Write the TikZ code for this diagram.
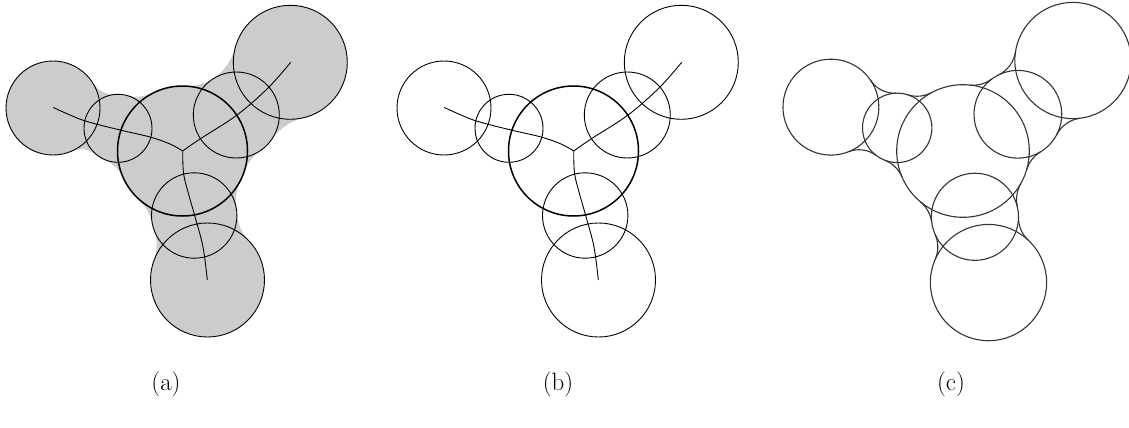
\documentclass[tikz,border=0pt]{standalone}
\usetikzlibrary{intersections,calc}
\tikzset{
  circ/.style={line width=0.9pt, draw=black},
  core/.style={line width=1.5pt, draw=black},
  skel/.style={line width=0.9pt, draw=black},
  skinfill/.style={fill=black!20},
  outl/.style={line width=1.1pt, draw=black!80},
  lab/.style={font=\fontsize{25}{30}\selectfont, inner sep=0pt},
}
\newcommand\uu{1}
\newcommand\defpts[1]{%
  \coordinate (#1L) at (53,108);
  \coordinate (#1S) at (118,128.3);
  \coordinate (#1C) at (182.5,151);
  \coordinate (#1U) at (236.3,115);
  \coordinate (#1T) at (290.3,62.3);
  \coordinate (#1M) at (194.2,215.5);
  \coordinate (#1B) at (207.5,280);
}
\newcommand\blendpts[6]{%
  \path[name path=bpA#6] (#1) circle[radius=#2+#5];
  \path[name path=bpB#6] (#3) circle[radius=#4+#5];
  \path[name intersections={of=bpA#6 and bpB#6, name=#6}];
}
% A rA B rB P R
\newcommand\filletregion[6]{%
  \fill[skinfill] let \p0=(#5),
      \p1=($(#1)!{#2/(#2+#6)}!(#5)$),
      \p2=($(#3)!{#4/(#4+#6)}!(#5)$),
      \n1={atan2(\y1-\y0,\x1-\x0)},
      \n2={atan2(\y2-\y0,\x2-\x0)},
      \n3={mod(\n2-\n1+540,360)-180},
      \n4={#6*\uu}
  in (#1) -- (\p1) arc[start angle=\n1, delta angle=\n3, radius=\n4 pt] -- (#3) -- cycle;}
\newcommand\filletarc[6]{%
  \draw[outl] let \p0=(#5),
      \p1=($(#1)!{#2/(#2+#6)}!(#5)$),
      \p2=($(#3)!{#4/(#4+#6)}!(#5)$),
      \n1={atan2(\y1-\y0,\x1-\x0)},
      \n2={atan2(\y2-\y0,\x2-\x0)},
      \n3={mod(\n2-\n1+540,360)-180},
      \n4={#6*\uu}
  in (\p1) arc[start angle=\n1, delta angle=\n3, radius=\n4 pt];}
\newcommand\pairsA{L/47/S/34/ls/25,S/34/C/65/sc/40,C/65/U/43/cu/50,U/43/T/57/ut/55,C/65/M/42.7/cm/50,M/42.7/B/57/mb/45}
\newcommand\pairsC{L/47/S/34/ls/28,S/34/C/65/sc/30,C/65/U/43/cu/30,U/43/T/57/ut/30,C/65/M/42.7/cm/32,M/42.7/B/57/mb/30}
\newcommand\allblends[2]{% prefix, list
  \foreach \ca/\ra/\cb/\rb/\pn/\rr in #2 {
    \blendpts{#1\ca}{\ra}{#1\cb}{\rb}{\rr}{#1\pn}
  }}
\newcommand\skinfills[2]{%
  \foreach \ca/\ra/\cb/\rb/\pn/\rr in #2 {
    \filletregion{#1\ca}{\ra}{#1\cb}{\rb}{#1\pn-1}{\rr}
    \filletregion{#1\ca}{\ra}{#1\cb}{\rb}{#1\pn-2}{\rr}
  }}
\newcommand\skinarcs[2]{%
  \foreach \ca/\ra/\cb/\rb/\pn/\rr in #2 {
    \filletarc{#1\ca}{\ra}{#1\cb}{\rb}{#1\pn-1}{\rr}
    \filletarc{#1\ca}{\ra}{#1\cb}{\rb}{#1\pn-2}{\rr}
  }}
\newcommand\drawcircles[2]{% prefix, style of core
  \draw[circ] (#1L) circle[radius=47];
  \draw[circ] (#1S) circle[radius=34];
  \draw[circ] (#1U) circle[radius=43];
  \draw[circ] (#1T) circle[radius=57];
  \draw[circ] (#1M) circle[radius=42.7];
  \draw[circ] (#1B) circle[radius=57];
  \draw[#2] (#1C) circle[radius=65];
}
\newcommand\fillcircles[1]{%
  \fill[skinfill] (#1L) circle[radius=47] (#1S) circle[radius=34]
    (#1U) circle[radius=43] (#1T) circle[radius=57]
    (#1M) circle[radius=42.7] (#1B) circle[radius=57]
    (#1C) circle[radius=65];
}
\newcommand\drawskel{%
  \draw[skel] plot[smooth, tension=0.6] coordinates
    {(53.3,107.5) (70,115) (87,121.5) (120,130) (150,137) (170,144) (182.7,151)};
  \draw[skel] plot[smooth, tension=0.6] coordinates
    {(182.7,151) (200,139) (237,115) (268,88) (290.7,62.3)};
  \draw[skel] plot[smooth, tension=0.6] coordinates
    {(182.7,151) (183.5,173) (188,192) (195,216.7) (203,247) (207.3,280)};
}
\begin{document}
\begin{tikzpicture}[x=1pt, y=-1pt]
\useasboundingbox (0,0) rectangle (1129,428);
% (a)
\begin{scope}
  \defpts{a}
  \allblends{a}{\pairsA}
  \skinfills{a}{\pairsA}
  \fillcircles{a}
  \drawcircles{a}{core}
  \drawskel
\end{scope}
% (b)
\begin{scope}[shift={(391,0)}]
  \defpts{b}
  \drawcircles{b}{core}
  \drawskel
\end{scope}
% (c)
\begin{scope}[shift={(963,151)}, x=1.02pt, y=-1.02pt, shift={(-182.5,-151)}]
  \renewcommand\uu{1.02}
  \defpts{c}
  \allblends{c}{\pairsC}
  \begin{scope}[circ/.style={outl}]
    \drawcircles{c}{outl}
  \end{scope}
  \skinarcs{c}{\pairsC}
\end{scope}
\node[lab] (la) at (166,384) {(a)};
\node[lab] (lb) at (558,384) {(b)};
\node[lab] (lc) at (951,384) {(c)};
\end{tikzpicture}
\end{document}
